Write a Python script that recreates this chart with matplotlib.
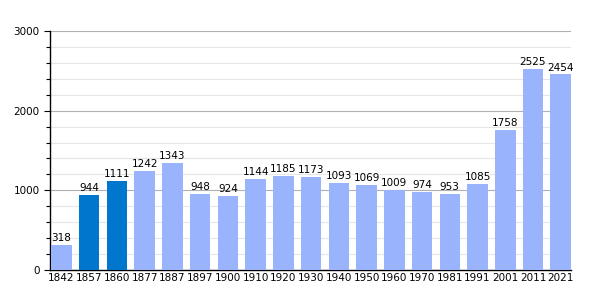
import matplotlib.pyplot as plt
import numpy as np
from matplotlib.ticker import MultipleLocator

years = ['1842', '1857', '1860', '1877', '1887', '1897', '1900', '1910', '1920', '1930',
         '1940', '1950', '1960', '1970', '1981', '1991', '2001', '2011', '2021']
population = [318, 944, 1111, 1242, 1343, 948, 924, 1144, 1185, 1173,
              1093, 1069, 1009, 974, 953, 1085, 1758, 2525, 2454]
highlight = ['1857', '1860']

light = '#99b3fc'
dark = '#0077cc'
colors = [dark if y in highlight else light for y in years]

fig = plt.figure(figsize=(6, 3), dpi=100)
ax = fig.add_axes([50/600, 30/300, 521/600, 239/300])

x = np.arange(len(years))
ax.bar(x, population, width=0.74, color=colors, zorder=3)
for xi, v in zip(x, population):
    ax.text(xi, v + 25, str(v), ha='center', va='bottom', fontsize=7.5, color='black', zorder=4)

ax.set_xlim(-0.41, len(years) - 1 + 0.37)
ax.set_ylim(0, 3000)
ax.set_xticks(x)
ax.set_xticklabels(years, fontsize=7.5)
ax.yaxis.set_major_locator(MultipleLocator(1000))
ax.yaxis.set_minor_locator(MultipleLocator(200))
ax.tick_params(axis='y', labelsize=7.5, length=4, width=0.8)
ax.tick_params(axis='y', which='minor', length=3, width=0.8)
ax.tick_params(axis='x', length=0, pad=2)
ax.grid(axis='y', which='major', color='#b0b0b0', linewidth=0.8, zorder=0)
ax.grid(axis='y', which='minor', color='#e6e6e6', linewidth=0.8, zorder=0)
for s in ['top', 'right']:
    ax.spines[s].set_visible(False)
ax.spines['left'].set_linewidth(1)
ax.spines['bottom'].set_linewidth(1)

fig.savefig('out.png', dpi=100)
